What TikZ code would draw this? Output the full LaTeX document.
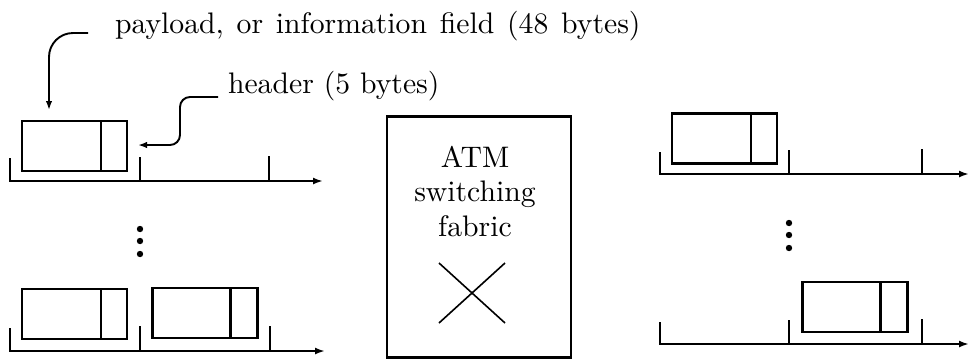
\documentclass[tikz,border=0pt]{standalone}
\usepackage{graphicx}
\usetikzlibrary{arrows.meta}
\newcommand{\bigtxt}[1]{\scalebox{2.97}{\fontsize{10}{12}\selectfont #1}}
\begin{document}
\begin{tikzpicture}[x=1pt,y=-1pt,
  every node/.style={inner sep=0pt, outer sep=0pt},
  cellbox/.style={draw, line width=2.2pt, minimum width=105pt, minimum height=50pt},
  cellline/.style={line width=2.2pt},
  tline/.style={line width=2.2pt},
  tarrow/.style={line width=2.2pt, -{Latex[length=10pt,width=7pt]}},
  ptr/.style={line width=1.9pt, -{Latex[length=9pt,width=6.5pt]}},
  crossline/.style={line width=1.6pt},
  dotmark/.style={fill=black}
]
\useasboundingbox (0,0) rectangle (970,360);

% labels
\node[anchor=base west] (pl) at (115,33.5) {\bigtxt{\spaceskip=4.3pt payload, or information field (48 bytes)}};
\node[anchor=base west] (hd) at (228,93) {\bigtxt{header (5 bytes)}};

% top-left line
\node[cellbox] (c1) at (74.5,146) {};
\draw[cellline] ([xshift=-26pt]c1.north east) -- ([xshift=-26pt]c1.south east);
\draw[tarrow] (10,158) -- (10,181) -- (323,181);
\draw[tline] (140,157) -- (140,181);
\draw[tline] (269,156) -- (269,181);

% pointers
\coordinate (plstart) at (88,33);
\coordinate (pltip) at (49,110);
\draw[ptr, rounded corners=24pt] (plstart) -| (pltip);
\coordinate (hdstart) at (218,97);
\coordinate (hdtip) at (138,145);
\draw[ptr, rounded corners=10pt] (hdstart) -| (180,145) -- (hdtip);

% dots left
\fill[dotmark] (140,229) circle (3.2pt) (140,241) circle (3.2pt) (140,254) circle (3.2pt);

% bottom-left line
\node[cellbox] (c2) at (74.5,314) {};
\draw[cellline] ([xshift=-26pt]c2.north east) -- ([xshift=-26pt]c2.south east);
\node[cellbox] (c3) at (205,313) {};
\draw[cellline] ([xshift=-27pt]c3.north east) -- ([xshift=-27pt]c3.south east);
\draw[tarrow] (10,328) -- (10,351) -- (325,351);
\draw[tline] (140,326) -- (140,351);
\draw[tline] (270,326) -- (270,351);

% switching fabric
\node[draw, line width=2.2pt, minimum width=184pt, minimum height=241pt] (sw) at (479,237) {};
\node[anchor=base] (t1) at (475,167) {\bigtxt{ATM}};
\node[anchor=base] (t2) at (475,201.5) {\bigtxt{switching}};
\node[anchor=base] (t3) at (475,236) {\bigtxt{fabric}};
\draw[crossline] (439,263) -- (505,323);
\draw[crossline] (439,323) -- (505,263);

% top-right line
\node[cellbox] (c4) at (724.5,138.5) {};
\draw[cellline] ([xshift=-26pt]c4.north east) -- ([xshift=-26pt]c4.south east);
\draw[tarrow] (660,152) -- (660,174) -- (969,174);
\draw[tline] (789,150) -- (789,174);
\draw[tline] (922,149) -- (922,174);

% dots right
\fill[dotmark] (789,223) circle (3.2pt) (789,235) circle (3.2pt) (789,248) circle (3.2pt);

% bottom-right line
\node[cellbox] (c5) at (855,307) {};
\draw[cellline] ([xshift=-27pt]c5.north east) -- ([xshift=-27pt]c5.south east);
\draw[tarrow] (660,322) -- (660,344) -- (969,344);
\draw[tline] (789,320) -- (789,344);
\draw[tline] (922,319) -- (922,344);
\end{tikzpicture}
\end{document}
